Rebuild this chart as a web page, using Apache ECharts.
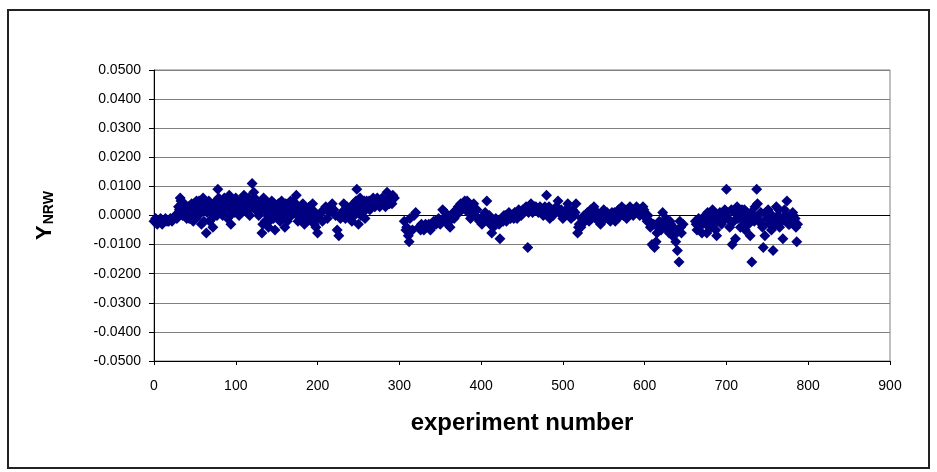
<!DOCTYPE html>
<html>
<head>
<meta charset="utf-8">
<script src="https://cdn.jsdelivr.net/npm/echarts@6/dist/echarts.min.js"></script>
<style>
  html, body { margin: 0; padding: 0; background: #fff; }
  #chart { width: 937px; height: 472px; }
</style>
</head>
<body>
<div id="chart"></div>
<script>
// experiment number (x) and Y_NRW (y)
const expNo = [
  0, 2, 4, 6, 8, 10, 12, 14, 16, 18, 20, 22, 24, 26, 28,
  30, 32, 34, 36, 38, 40, 42, 44, 46, 48, 50, 52, 54, 56, 58, 60, 62, 64, 66, 68,
  70, 72, 74, 76, 78, 80, 82, 84, 86, 88, 90, 92, 94, 96, 98, 100,
  102, 104, 106, 108, 110, 112, 114, 116, 118, 120, 122, 124, 126, 128, 130, 132, 134, 136, 138,
  140, 142, 144, 146, 148, 150, 152, 154, 156, 158, 160, 162, 164, 166, 168,
  170, 172, 174, 176, 178, 180, 182, 184, 186, 188, 190, 192, 194, 196, 198, 200,
  202, 206, 210, 212, 214, 218, 220, 222, 224, 226, 230, 232, 234, 236, 238, 240,
  242, 244, 246, 248, 250, 252, 254, 256, 258, 260, 262, 264, 266, 268, 270,
  272, 274, 276, 278, 280, 283, 285, 288, 291, 294,
  306, 308, 309, 311, 312, 313, 316, 318, 320,
  324, 327, 330, 333, 336, 339, 342, 345, 348, 351, 353, 356, 359, 362, 364, 367,
  370, 373, 375, 377, 380, 383, 385, 387, 389, 391, 393, 396, 398, 400,
  403, 407, 409, 411, 413, 415, 418, 420, 423, 425, 428, 431, 434, 436, 438,
  441, 444, 446, 449, 452, 455, 457, 459, 461, 463, 465, 468, 470, 472, 474, 476, 478, 480,
  482, 484, 486, 488, 490, 492, 494, 496, 498, 500, 502, 504, 506, 508, 510,
  512, 514, 516, 518, 520, 522, 524, 526, 528, 530, 532, 534, 536, 538, 540,
  542, 544, 546, 548, 550, 552, 554, 556, 558, 560, 562, 564, 566, 568, 570,
  572, 574, 576, 578, 580, 582, 584, 586, 588, 590, 592, 594, 596, 598, 600,
  602, 604, 606, 607, 609, 612, 614, 616, 618, 620, 622, 624, 626, 628, 630,
  632, 634, 636, 638, 640, 642, 643, 645, 647,
  662, 664, 666, 668, 670, 672, 674, 676, 677, 679, 681, 683, 685, 687, 688,
  690, 692, 694, 696, 698, 700, 702, 704, 706, 707, 709, 711, 713, 715, 717,
  719, 721, 723, 725, 727, 729, 731, 733, 735, 737, 738, 740, 742, 744, 745,
  747, 749, 751, 753, 755, 757, 759, 761, 763, 765, 767, 769, 771, 773, 774,
  776, 778, 780, 781, 783, 785, 786, 787,
  // in-between experiments in the dense stretches
  31, 33, 35, 37, 39, 41, 43, 45, 47, 49, 51, 53, 55, 57, 59, 61, 63, 65, 67, 69,
  71, 73, 75, 77, 79, 81, 83, 85, 87, 89, 91, 93, 95, 97, 99, 101, 103, 105, 107, 109,
  111, 113, 115, 117, 119, 121, 123, 125, 127, 129, 131, 133, 135, 137, 139, 141, 143, 145, 147, 149,
  151, 153, 155, 157, 159, 161, 163, 165, 167, 169, 171, 173, 175, 177, 179, 181, 183, 185, 187, 189,
  191, 193, 195, 197, 199,
  204, 208, 216, 228, 233, 237, 241, 245, 247, 249, 251, 253, 255, 257, 259, 261, 263, 265, 267, 269,
  271, 273, 275, 277, 279, 281, 287, 290, 292,
  326, 332, 338, 344, 350, 355, 358, 361, 366, 369, 372, 376, 379, 382, 384, 388, 392, 395,
  401, 405, 410, 417, 422, 427, 430, 433, 440, 443, 448, 451, 454, 458, 462, 467, 471, 475, 479,
  483, 487, 491, 495, 499, 503, 507, 511, 515, 519, 523, 527, 531, 535, 539, 543, 547, 551, 555, 559,
  563, 567, 571, 575, 579, 583, 587, 591, 595, 599,
  603, 611, 615, 619, 623, 627, 631, 635, 639, 644,
  663, 667, 671, 675, 680, 684, 689, 693, 697, 701, 705, 710, 714, 718, 722, 726, 730, 734, 739, 743,
  748, 752, 756, 760, 764, 768, 772, 777, 782, 784
];

const yNrw = [
  -0.002, -0.001, -0.003, -0.002, -0.001, -0.003, -0.002, -0.001, -0.002, -0.002, -0.001, -0.002, -0.001, 0.000, -0.001,
  0.003, 0.006, 0.004, 0.001, 0.002, -0.001, 0.003, 0.001, 0.004, -0.002, 0.002, 0.005, 0.000, 0.003, -0.003, 0.006, 0.002, -0.006, 0.004, -0.002,
  0.001, -0.004, 0.003, 0.005, 0.009, 0.002, 0.004, 0.000, 0.006, 0.003, -0.001, 0.007, -0.003, 0.004, 0.001, 0.006,
  0.003, 0.000, 0.005, 0.002, 0.007, 0.004, 0.001, 0.006, 0.003, 0.011, 0.008, 0.002, 0.005, 0.000, 0.004, -0.006, 0.006, -0.002, 0.003,
  -0.004, 0.001, 0.005, -0.001, -0.005, 0.002, 0.004, -0.002, 0.005, 0.003, -0.004, 0.001, 0.004, 0.002, 0.000,
  0.005, 0.003, 0.007, -0.002, 0.002, 0.000, 0.004, -0.003, -0.001, 0.002, 0.003, -0.001, 0.004, -0.003, -0.004, -0.006,
  0.000, -0.002, 0.003, -0.001, 0.001, 0.004, 0.002, 0.000, -0.005, -0.007, 0.001, 0.004, -0.001, 0.003, 0.000, 0.002,
  -0.002, 0.004, 0.001, 0.009, -0.003, 0.006, 0.002, 0.004, -0.001, 0.005, 0.003, 0.002, 0.004, 0.006, 0.003,
  0.005, 0.004, 0.003, 0.004, 0.005, 0.003, 0.008, 0.004, 0.004, 0.006,
  -0.002, -0.005, -0.004, -0.007, -0.009, -0.001, -0.005, 0.000, 0.001,
  -0.004, -0.003, -0.005, -0.004, -0.003, -0.004, -0.002, -0.003, -0.001, -0.002, 0.002, 0.001, -0.003, -0.004, 0.000, -0.001,
  0.002, 0.001, 0.004, 0.003, 0.005, 0.005, 0.002, -0.001, 0.003, 0.004, 0.000, -0.001, -0.002, -0.001,
  0.000, 0.005, -0.002, -0.003, -0.006, -0.004, -0.001, -0.002, -0.008, -0.001, 0.000, -0.002, 0.001, -0.001, 0.000,
  0.001, -0.001, 0.002, 0.000, 0.001, 0.003, -0.011, 0.002, 0.004, 0.001, 0.003, 0.002, 0.001, 0.003, 0.002, 0.000, 0.003, 0.007,
  0.001, -0.001, 0.002, 0.000, 0.001, 0.003, 0.005, 0.001, 0.002, -0.001, 0.000, 0.002, 0.004, 0.001, -0.001,
  0.002, 0.000, 0.004, -0.006, -0.003, -0.004, -0.002, 0.000, -0.001, 0.001, -0.002, 0.002, 0.000, 0.003, -0.001,
  0.001, -0.002, -0.003, 0.000, 0.002, -0.001, 0.001, 0.000, -0.002, 0.001, -0.001, -0.002, 0.000, 0.002, 0.001,
  0.003, 0.000, 0.002, -0.001, 0.001, 0.003, 0.002, 0.000, 0.001, 0.003, 0.002, 0.000, 0.001, 0.003, 0.001,
  -0.001, 0.000, -0.002, -0.004, -0.010, -0.011, -0.009, -0.004, -0.002, -0.005, 0.001, -0.003, -0.001, -0.005, -0.006,
  -0.003, -0.007, -0.005, -0.009, -0.012, -0.016, -0.002, -0.006, -0.003,
  -0.002, -0.005, -0.001, -0.003, -0.006, -0.002, 0.000, -0.006, 0.001, -0.003, -0.004, 0.002, -0.002, -0.005, -0.007,
  0.000, 0.001, -0.003, -0.002, 0.002, 0.009, -0.001, -0.004, 0.002, -0.010, -0.002, -0.008, 0.003, 0.000, -0.004,
  0.002, -0.002, -0.005, 0.001, -0.003, -0.007, -0.016, 0.000, 0.003, 0.009, 0.004, -0.002, 0.001, -0.004, -0.011,
  -0.007, -0.001, 0.002, -0.003, -0.005, -0.012, -0.002, 0.003, 0.000, -0.004, -0.001, -0.008, 0.002, -0.002, 0.005,
  -0.003, 0.000, -0.001, 0.001, -0.002, -0.004, -0.009, -0.003,
  // in-between experiments
  0.002, 0.005, 0.000, 0.004, 0.001, 0.002, -0.001, 0.003, 0.001, 0.004, -0.001, 0.003, 0.005, 0.001, 0.004, -0.002, 0.003, 0.001, 0.005, 0.002,
  -0.001, 0.004, 0.002, 0.000, 0.006, 0.003, 0.001, 0.004, 0.002, 0.005, 0.003, 0.000, 0.005, 0.002, 0.004, 0.001, 0.005, 0.003, 0.001, 0.004,
  0.002, 0.006, 0.003, 0.000, 0.005, 0.004, 0.006, 0.002, 0.004, 0.001, 0.003, -0.003, 0.002, 0.005, 0.000, -0.002, 0.003, 0.002, 0.004, 0.000,
  0.003, 0.001, 0.003, -0.001, 0.002, 0.004, -0.002, 0.003, 0.005, 0.001, 0.002, 0.004, 0.000, 0.003, -0.001, 0.001, 0.002, 0.000, -0.002, 0.001,
  0.000, 0.002, -0.002, 0.001, -0.001,
  0.001, 0.002, 0.003, -0.001, 0.002, 0.001, 0.003, 0.000, 0.005, 0.002, 0.004, 0.000, 0.003, 0.005, 0.002, 0.004, 0.005, 0.003, 0.004, 0.005,
  0.004, 0.006, 0.005, 0.004, 0.006, 0.004, 0.006, 0.005, 0.007,
  -0.005, -0.003, -0.005, -0.002, -0.003, -0.001, 0.000, -0.002, 0.001, 0.000, 0.003, 0.002, 0.004, 0.003, 0.001, 0.002, 0.001, 0.002,
  -0.003, 0.001, 0.000, -0.003, -0.003, -0.002, 0.000, -0.001, -0.001, 0.001, 0.001, 0.002, 0.002, 0.001, 0.002, 0.003, 0.002, 0.001, 0.002,
  0.003, 0.001, 0.002, 0.002, 0.000, 0.001, 0.002, 0.001, 0.001, -0.004, -0.001, -0.002, 0.000, -0.001, 0.001, 0.000, -0.001, 0.000, -0.001, 0.000,
  0.001, -0.001, 0.002, 0.001, 0.002, 0.001, 0.002, 0.001, 0.002, 0.002,
  -0.002, -0.003, -0.006, -0.003, -0.002, -0.004, -0.002, -0.004, -0.006, -0.004,
  -0.003, -0.004, -0.001, -0.003, -0.001, 0.000, -0.002, -0.001, 0.000, 0.001, -0.002, 0.001, -0.001, 0.000, 0.002, -0.001, 0.001, -0.002, 0.000, -0.003,
  0.001, -0.001, 0.000, -0.003, 0.002, -0.002, 0.000, -0.003, 0.000, -0.001
];

const xTicks = { min: 0, max: 900, interval: 100 };
const yTicks = { min: -0.05, max: 0.05, interval: 0.01 };

const chart = echarts.init(document.getElementById('chart'));

// zero line is drawn darker than the other gridlines (index 5 from the bottom)
const gridColors = [];
for (let i = 0; i <= 10; i++) gridColors.push(i === 5 ? '#000000' : '#808080');

const points = expNo.map((x, i) => [x, yNrw[i]]);

const font = '"Liberation Sans", Arial, sans-serif';

const option = {
  animation: false,
  backgroundColor: '#ffffff',
  grid: {
    left: 154,
    right: 47,
    top: 70,
    bottom: 111,
    show: true,
    borderColor: '#808080',
    borderWidth: 1
  },
  xAxis: {
    type: 'value',
    min: xTicks.min,
    max: xTicks.max,
    interval: xTicks.interval,
    name: 'experiment number',
    nameLocation: 'middle',
    nameGap: 50,
    nameTextStyle: {
      fontFamily: font,
      fontSize: 24,
      fontWeight: 'bold',
      color: '#000'
    },
    axisLine: { onZero: false, lineStyle: { color: '#000', width: 1 } },
    axisTick: { show: true, inside: false, length: 4, lineStyle: { color: '#000' } },
    axisLabel: {
      margin: 18,
      fontFamily: font,
      fontSize: 14,
      color: '#000'
    },
    splitLine: { show: false }
  },
  yAxis: {
    type: 'value',
    min: yTicks.min,
    max: yTicks.max,
    interval: yTicks.interval,
    name: '{y|Y}{s|NRW}',
    nameLocation: 'middle',
    nameGap: 98,
    nameRotate: 90,
    nameTextStyle: {
      rich: {
        y: { fontFamily: font, fontSize: 22, fontWeight: 'bold', color: '#000' },
        s: { fontFamily: font, fontSize: 14, fontWeight: 'bold', color: '#000', padding: [8, 0, 0, 1] }
      }
    },
    axisLine: { onZero: false, lineStyle: { color: '#000', width: 1 } },
    axisTick: { show: true, inside: false, length: 5, lineStyle: { color: '#000' } },
    axisLabel: {
      margin: 13,
      fontFamily: font,
      fontSize: 14,
      color: '#000',
      formatter: (v) => (Math.abs(v) < 1e-9 ? 0 : v).toFixed(4)
    },
    splitLine: {
      show: true,
      lineStyle: { color: gridColors, width: 1 }
    }
  },
  series: [
    {
      name: 'Y_NRW',
      type: 'scatter',
      data: points,
      symbol: 'diamond',
      symbolSize: 11,
      itemStyle: { color: '#000080', opacity: 1 }
    }
  ],
  graphic: [
    {
      type: 'rect',
      shape: { x: 8, y: 10, width: 921, height: 458 },
      style: { fill: 'none', stroke: '#222', lineWidth: 2 },
      silent: true
    }
  ]
};

chart.setOption(option);
</script>
</body>
</html>
